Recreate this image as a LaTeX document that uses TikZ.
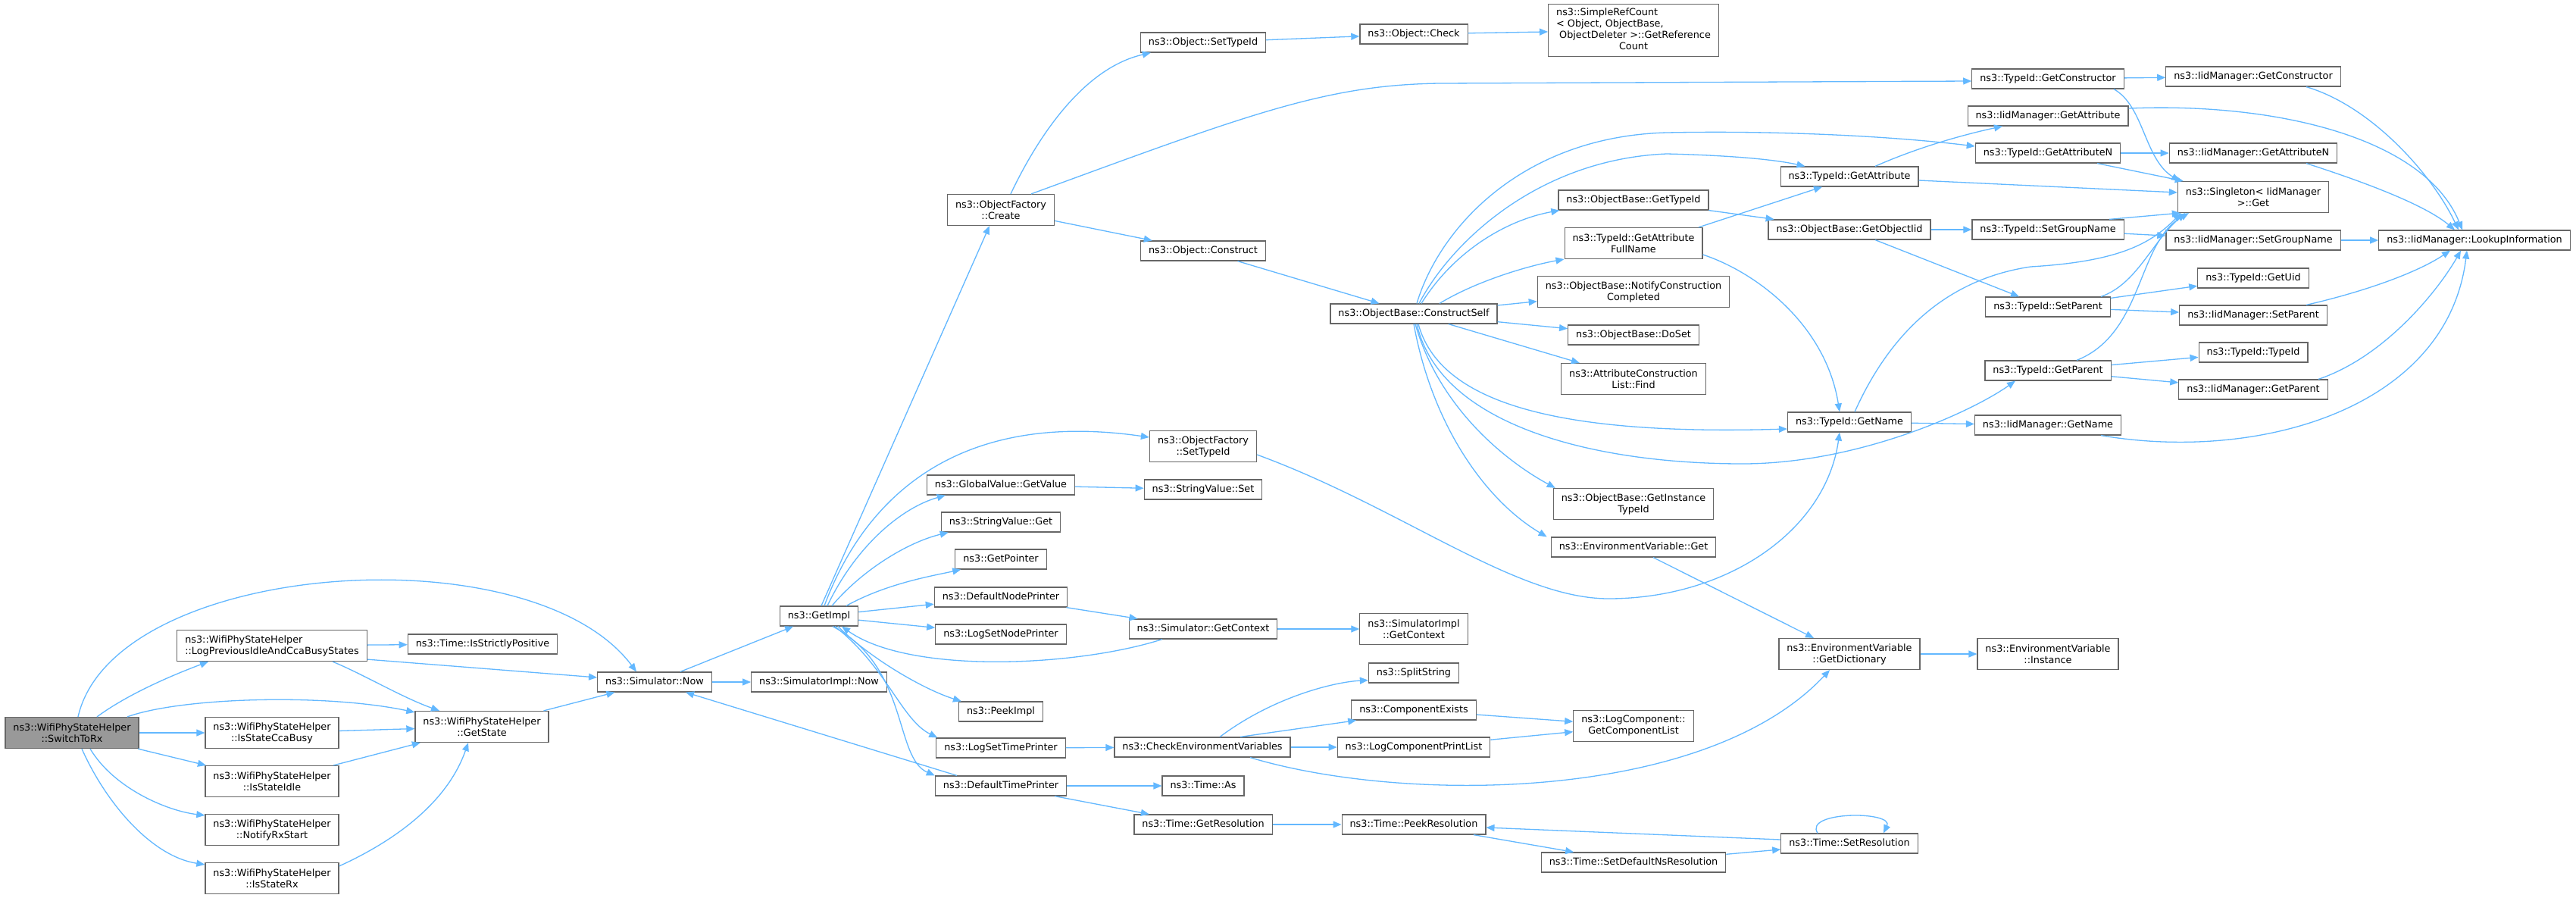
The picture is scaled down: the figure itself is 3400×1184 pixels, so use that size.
\documentclass[tikz,border=0pt]{standalone}
\usepackage{fontspec}
\setmainfont{DejaVu Sans}
\usetikzlibrary{arrows.meta}

\definecolor{edgeblue}{RGB}{99,184,255}
\definecolor{boxgray}{RGB}{102,102,102}
\definecolor{rootgray}{RGB}{153,153,153}

\begin{document}
\begin{tikzpicture}[
  x=1pt, y=-1pt,
  fnbox/.style={draw=boxgray, line width=1.2pt, fill=white, inner xsep=10.5pt, inner ysep=0pt, font=\fontsize{12.8}{15}\selectfont},
  fn/.style={fnbox, minimum height=26pt, text height=9.6pt, text depth=3pt},
  fn2/.style={fnbox, align=center, minimum height=41pt},
  root/.style={fn2, fill=rootgray},
  call/.style={draw=edgeblue, line width=1.3pt, -{Triangle[length=11pt, width=9pt]}}
  ]
  \fill[white] (0,0) rectangle (3400,1184);
  \useasboundingbox (0,0) rectangle (3400,1184);

  % callers of GetState
  \node[root] (sw) at (95,967) {ns3::WifiPhyStateHelper\\::SwitchToRx};
  \node[fn2, align=left] (logprev) at (359,852) {ns3::WifiPhyStateHelper\\::LogPreviousIdleAndCcaBusyStates};
  \node[fn2] (ccabusy) at (359,967) {ns3::WifiPhyStateHelper\\::IsStateCcaBusy};
  \node[fn2] (idle) at (359,1031) {ns3::WifiPhyStateHelper\\::IsStateIdle};
  \node[fn2] (rxstart) at (359,1095) {ns3::WifiPhyStateHelper\\::NotifyRxStart};
  \node[fn2] (isrx) at (359,1159) {ns3::WifiPhyStateHelper\\::IsStateRx};
  \node[fn] (strict) at (637,850) {ns3::Time::IsStrictlyPositive};
  \node[fn2] (getstate) at (636,959) {ns3::WifiPhyStateHelper\\::GetState};
  \node[fn] (now) at (864,900) {ns3::Simulator::Now};
  \node[fn] (implnow) at (1081,900) {ns3::SimulatorImpl::Now};
  \node[fn] (getimpl) at (1081,813) {ns3::GetImpl};

  \node[fn2] (create) at (1321,277) {ns3::ObjectFactory\\::Create};
  \node[fn] (getvalue) at (1321,640) {ns3::GlobalValue::GetValue};
  \node[fn] (svget) at (1321,689) {ns3::StringValue::Get};
  \node[fn] (getptr) at (1321,738) {ns3::GetPointer};
  \node[fn] (nodeprn) at (1321,788) {ns3::DefaultNodePrinter};
  \node[fn] (lognode) at (1321,837) {ns3::LogSetNodePrinter};
  \node[fn] (peek) at (1321,939) {ns3::PeekImpl};
  \node[fn] (logtime) at (1321,987) {ns3::LogSetTimePrinter};
  \node[fn] (timeprn) at (1321,1037) {ns3::DefaultTimePrinter};

  \node[fn] (objsettid) at (1588,56) {ns3::Object::SetTypeId};
  \node[fn] (construct) at (1588,331) {ns3::Object::Construct};
  \node[fn2] (ofsettid) at (1588,589) {ns3::ObjectFactory\\::SetTypeId};
  \node[fn] (svset) at (1588,646) {ns3::StringValue::Set};
  \node[fn] (simctx) at (1588,830) {ns3::Simulator::GetContext};
  \node[fn] (checkenv) at (1587,986) {ns3::CheckEnvironmentVariables};
  \node[fn] (timeas) at (1588,1037) {ns3::Time::As};
  \node[fn] (getres) at (1588,1088) {ns3::Time::GetResolution};

  \node[fn] (check) at (1866,45) {ns3::Object::Check};
  \node[fn] (cself) at (1866,414) {ns3::ObjectBase::ConstructSelf};
  \node[fn2] (implctx) at (1866,830) {ns3::SimulatorImpl\\::GetContext};
  \node[fn] (split) at (1866,888) {ns3::SplitString};
  \node[fn] (exists) at (1866,937) {ns3::ComponentExists};
  \node[fn] (printlist) at (1866,986) {ns3::LogComponentPrintList};
  \node[fn] (peekres) at (1866,1088) {ns3::Time::PeekResolution};

  \node[fnbox, minimum height=69pt] (refcount) at (2156,40) {\begin{tabular}{@{}l@{}}ns3::SimpleRefCount\\< Object, ObjectBase,\\\ ObjectDeleter >::GetReference\\\multicolumn{1}{@{}c@{}}{Count}\end{tabular}};
  \node[fn] (gettid) at (2156,264) {ns3::ObjectBase::GetTypeId};
  \node[fn2] (fullname) at (2156,321) {ns3::TypeId::GetAttribute\\FullName};
  \node[fn2] (notify) at (2156,385) {ns3::ObjectBase::NotifyConstruction\\Completed};
  \node[fn] (doset) at (2156,442) {ns3::ObjectBase::DoSet};
  \node[fn2] (acfind) at (2156,500) {ns3::AttributeConstruction\\List::Find};
  \node[fn2] (insttid) at (2156,665) {ns3::ObjectBase::GetInstance\\TypeId};
  \node[fn] (envget) at (2156,722) {ns3::EnvironmentVariable::Get};
  \node[fn2] (complist) at (2156,958) {ns3::LogComponent::\\GetComponentList};
  \node[fn] (setdefres) at (2156,1138) {ns3::Time::SetDefaultNsResolution};

  \node[fn] (getattr) at (2441,233) {ns3::TypeId::GetAttribute};
  \node[fn] (objiid) at (2441,303) {ns3::ObjectBase::GetObjectIid};
  \node[fn] (getname) at (2441,557) {ns3::TypeId::GetName};
  \node[fn2] (dict) at (2441,863) {ns3::EnvironmentVariable\\::GetDictionary};
  \node[fn] (setres) at (2441,1113) {ns3::Time::SetResolution};

  \node[fn] (getctor) at (2703,104) {ns3::TypeId::GetConstructor};
  \node[fn] (iidattr) at (2703,153) {ns3::IidManager::GetAttribute};
  \node[fn] (getattrn) at (2703,202) {ns3::TypeId::GetAttributeN};
  \node[fn] (setgroup) at (2703,303) {ns3::TypeId::SetGroupName};
  \node[fn] (setparent) at (2703,405) {ns3::TypeId::SetParent};
  \node[fn] (getparent) at (2703,489) {ns3::TypeId::GetParent};
  \node[fn] (iidname) at (2703,561) {ns3::IidManager::GetName};
  \node[fn2] (instance) at (2703,863) {ns3::EnvironmentVariable\\::Instance};

  \node[fn] (iidctor) at (2974,101) {ns3::IidManager::GetConstructor};
  \node[fn] (iidattrn) at (2974,202) {ns3::IidManager::GetAttributeN};
  \node[fn2] (single) at (2974,260) {ns3::Singleton< IidManager\\>::Get};
  \node[fn] (iidgroup) at (2974,317) {ns3::IidManager::SetGroupName};
  \node[fn] (getuid) at (2974,367) {ns3::TypeId::GetUid};
  \node[fn] (iidparent) at (2974,416) {ns3::IidManager::SetParent};
  \node[fn] (typeid) at (2974,465) {ns3::TypeId::TypeId};
  \node[fn] (iidgetparent) at (2974,514) {ns3::IidManager::GetParent};
  \node[fn] (lookup) at (3266,317) {ns3::IidManager::LookupInformation};

  % left part
  \draw[call] ([xshift=8pt]sw.north) .. controls (150,740) and (700,700) .. ([xshift=-24pt]now.north);
  \draw[call] ([xshift=33pt]sw.north) .. controls (170,915) and (230,890) .. ([xshift=-84pt]logprev.south);
  \draw[call] ([xshift=73pt]sw.north) .. controls (240,920) and (430,915) .. ([yshift=-2pt]getstate.north west);
  \draw[call] (sw) -- (ccabusy);
  \draw[call] (sw) -- (idle);
  \draw[call] ([xshift=24pt]sw.south) .. controls (150,1040) and (220,1070) .. ([yshift=-2pt]rxstart.north west);
  \draw[call] ([xshift=13pt]sw.south) .. controls (140,1060) and (200,1130) .. ([yshift=-3pt]isrx.north west);
  \draw[call] (logprev) -- (strict);
  \draw[call] ([yshift=3pt]logprev.south east) -- ([yshift=6pt]now.west);
  \draw[call] ([xshift=80pt]logprev.south) .. controls (480,890) and (530,920) .. ([xshift=-56pt]getstate.north);
  \draw[call] (ccabusy) -- (getstate);
  \draw[call] (idle) -- (getstate);
  \draw[call] ([yshift=-5pt]isrx.north east) .. controls (520,1110) and (590,1060) .. ([xshift=-18pt]getstate.south);
  \draw[call] (getstate) -- (now);
  \draw[call] (now) -- (implnow);
  \draw[call] (now) -- (getimpl);
  \draw[call] ([xshift=-58pt]timeprn.north) -- ([xshift=41pt]now.south);

  % GetImpl and the printers
  \draw[call] ([xshift=3pt]getimpl.north) -- ([xshift=-15pt]create.south);
  \draw[call] ([xshift=7pt]getimpl.north) .. controls (1140,660) and (1260,540) .. ([yshift=12pt]ofsettid.west);
  \draw[call] ([xshift=11pt]getimpl.north) .. controls (1130,720) and (1190,670) .. ([xshift=25pt]getvalue.south west);
  \draw[call] ([xshift=17pt]getimpl.north) .. controls (1140,750) and (1200,715) .. ([xshift=10pt]svget.south west);
  \draw[call] ([xshift=36pt]getimpl.north) .. controls (1170,770) and (1230,760) .. ([xshift=8pt]getptr.south west);
  \draw[call] (getimpl) -- (nodeprn);
  \draw[call] (getimpl) -- (lognode);
  \draw[call] ([xshift=25pt]getimpl.south) .. controls (1150,870) and (1220,910) .. ([xshift=4pt]peek.north west);
  \draw[call] ([xshift=21pt]getimpl.south) .. controls (1170,880) and (1190,950) .. ([xshift=2pt]logtime.north west);
  \draw[call] ([xshift=18pt]getimpl.south) .. controls (1200,880) and (1180,1000) .. (timeprn.north west);
  \draw[call] ([xshift=-54pt]simctx.south) .. controls (1420,880) and (1200,890) .. ([xshift=30pt]getimpl.south);
  \draw[call] (nodeprn) -- (simctx);
  \draw[call] (simctx) -- (implctx);
  \draw[call] (getvalue) -- (svset);
  \draw[call] (logtime) -- (checkenv);
  \draw[call] ([xshift=23pt]checkenv.north) .. controls (1680,920) and (1760,900) .. ([yshift=4pt]split.south west);
  \draw[call] ([xshift=50pt]checkenv.north) -- ([xshift=7pt]exists.south west);
  \draw[call] (checkenv) -- (printlist);
  \draw[call] ([xshift=63pt]checkenv.south) .. controls (1850,1060) and (2250,1060) .. ([xshift=-26pt]dict.south);
  \draw[call] (exists) -- (complist);
  \draw[call] (printlist) -- (complist);
  \draw[call] (timeprn) -- (timeas);
  \draw[call] (timeprn) -- (getres);
  \draw[call] (getres) -- (peekres);
  \draw[call] (peekres) -- (setdefres);
  \draw[call] (setdefres) -- (setres);
  \draw[call] ([yshift=5pt]setres.west) -- ([yshift=-4pt]peekres.east);
  \draw[call] ([xshift=-42pt]setres.north) .. controls (2380,1070) and (2500,1070) .. ([xshift=45pt]setres.north);

  % object factory
  \draw[call] ([xshift=13pt]create.north) .. controls (1370,180) and (1430,90) .. ([xshift=14pt]objsettid.south west);
  \draw[call] ([xshift=40pt]create.north) .. controls (1650,150) and (1750,112) .. (1900,110) -- ([yshift=-3pt]getctor.west);
  \draw[call] (create) -- (construct);
  \draw[call] (objsettid) -- (check);
  \draw[call] (check) -- (refcount);
  \draw[call] (construct) -- (cself);
  \draw[call] ([yshift=-11pt]ofsettid.east) .. controls (1850,670) and (2000,790) .. (2123,790) .. controls (2280,790) and (2410,700) .. ([xshift=-13pt]getname.south);

  % ConstructSelf
  \draw[call] ([xshift=4pt]cself.north) .. controls (1900,300) and (2010,180) .. (2200,175) .. controls (2350,172) and (2500,180) .. ([yshift=9pt]getattrn.west);
  \draw[call] ([xshift=7pt]cself.north) .. controls (1915,320) and (2030,210) .. (2200,203) .. controls (2280,205) and (2340,210) .. ([xshift=33pt]getattr.north west);
  \draw[call] ([xshift=10pt]cself.north) .. controls (1920,330) and (1990,290) .. ([xshift=2pt]gettid.south west);
  \draw[call] ([xshift=34pt]cself.north) .. controls (1950,370) and (2020,350) .. (fullname.south west);
  \draw[call] (cself) -- (notify);
  \draw[call] (cself) -- (doset);
  \draw[call] (cself) -- (acfind);
  \draw[call] ([xshift=6pt]cself.south) .. controls (1900,530) and (2050,575) .. ([yshift=-9pt]getname.west);
  \draw[call] ([xshift=4pt]cself.south) .. controls (1900,560) and (2100,612) .. (2300,612) .. controls (2450,612) and (2600,545) .. ([xshift=-43pt]getparent.south);
  \draw[call] ([xshift=2pt]cself.south) .. controls (1900,540) and (1990,610) .. ([xshift=3pt]insttid.north west);
  \draw[call] (cself.south) .. controls (1890,560) and (1960,660) .. ([xshift=-5pt]envget.north west);

  % TypeId and IidManager
  \draw[call] (gettid) -- (objiid);
  \draw[call] ([xshift=86pt]fullname.north) -- ([xshift=-36pt]getattr.south);
  \draw[call] ([yshift=-15pt]fullname.east) .. controls (2320,360) and (2410,430) .. ([xshift=-13pt]getname.north);
  \draw[call] (objiid) -- (setgroup);
  \draw[call] ([xshift=34pt]objiid.south) -- ([xshift=-38pt]setparent.north);
  \draw[call] ([xshift=34pt]getattr.north) .. controls (2530,195) and (2590,178) .. ([xshift=-60pt]iidattr.south);
  \draw[call] ([yshift=-5pt]getattr.east) -- ([yshift=6pt]single.west);
  \draw[call] ([xshift=7pt]getname.north) .. controls (2490,450) and (2560,370) .. (2680,352) .. controls (2800,345) and (2840,320) .. ([xshift=-95pt]single.south);
  \draw[call] (getname) -- (iidname);
  \draw[call] (getctor) -- (iidctor);
  \draw[call] ([xshift=87pt]getctor.south) .. controls (2830,140) and (2830,210) .. ([xshift=3pt]single.north west);
  \draw[call] ([xshift=70pt]iidctor.south) .. controls (3130,140) and (3210,230) .. ([xshift=-21pt]lookup.north);
  \draw[call] ([yshift=10pt]iidattr.east) .. controls (3000,135) and (3200,180) .. ([xshift=-16pt]lookup.north);
  \draw[call] (getattrn) -- (iidattrn);
  \draw[call] ([xshift=65pt]getattrn.south) -- ([xshift=8pt]single.north west);
  \draw[call] ([xshift=70pt]iidattrn.south) .. controls (3120,240) and (3200,270) .. ([xshift=-26pt]lookup.north);
  \draw[call] ([xshift=81pt]setgroup.north) -- ([xshift=4pt]single.south west);
  \draw[call] (setgroup) -- (iidgroup);
  \draw[call] (iidgroup) -- (lookup);
  \draw[call] ([xshift=70pt]setparent.north) .. controls (2820,375) and (2840,320) .. ([xshift=-90pt]single.south);
  \draw[call] (setparent) -- (getuid);
  \draw[call] (setparent) -- (iidparent);
  \draw[call] ([xshift=70pt]iidparent.north) .. controls (3120,385) and (3190,360) .. ([xshift=-32pt]lookup.south);
  \draw[call] ([xshift=38pt]getparent.north) .. controls (2830,440) and (2820,320) .. ([xshift=-85pt]single.south);
  \draw[call] (getparent) -- (typeid);
  \draw[call] (getparent) -- (iidgetparent);
  \draw[call] ([xshift=86pt]iidgetparent.north) .. controls (3150,470) and (3220,380) .. ([xshift=-18pt]lookup.south);
  \draw[call] ([xshift=70pt]iidname.south) .. controls (2980,610) and (3230,540) .. ([xshift=-10pt]lookup.south);
  \draw[call] ([xshift=26pt]envget.south) -- ([xshift=-47pt]dict.north);
  \draw[call] (dict) -- (instance);
\end{tikzpicture}
\end{document}
